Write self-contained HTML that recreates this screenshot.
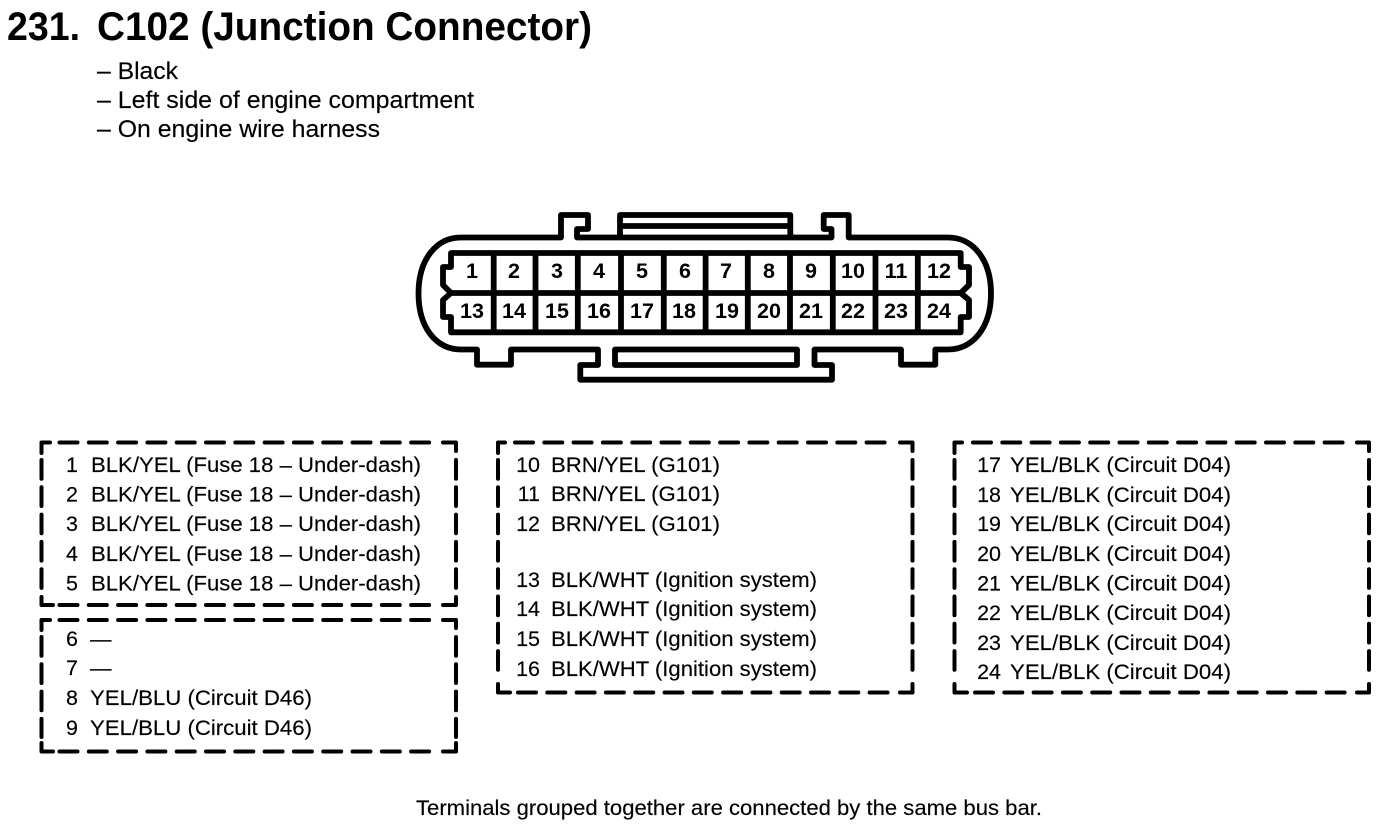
<!DOCTYPE html>
<html><head><meta charset="utf-8"><style>
html,body{margin:0;padding:0;background:#fff;width:1392px;height:834px;overflow:hidden}
svg{display:block}
text{font-family:"Liberation Sans",sans-serif;fill:#000}
.t{font-size:21.5px;stroke:#000;stroke-width:.15}
.n{font-size:21.5px;text-anchor:end;stroke:#000;stroke-width:.15}
.s{font-size:24px;stroke:#000;stroke-width:.15}
.b{font-size:21.5px;font-weight:bold;text-anchor:middle}
.h{font-size:40px;font-weight:bold}
.c{fill:none;stroke:#000;stroke-width:5.8;stroke-linejoin:round}
.d{fill:none;stroke:#000;stroke-width:4;stroke-linecap:round;stroke-linejoin:round}
.x{stroke-dasharray:18 11.3}
.y{stroke-dasharray:18.7 8.6}
</style></head><body>
<svg width="1392" height="834" viewBox="0 0 1392 834" xmlns="http://www.w3.org/2000/svg">
<text class="h" x="7" y="40" textLength="73" lengthAdjust="spacingAndGlyphs">231.</text>
<text class="h" x="97" y="40" textLength="495" lengthAdjust="spacingAndGlyphs">C102 (Junction Connector)</text>
<text class="s" x="97" y="79" textLength="81" lengthAdjust="spacingAndGlyphs">– Black</text>
<text class="s" x="97" y="108" textLength="377" lengthAdjust="spacingAndGlyphs">– Left side of engine compartment</text>
<text class="s" x="97" y="137" textLength="283" lengthAdjust="spacingAndGlyphs">– On engine wire harness</text>

<path class="c" d="M461 237.5H561V215H588V229H577V237.5H831.5V229H823.7V215H848.7V237.5H948C972.5 237.5 991 259 991 293.5C991 328 972.5 349.5 948 349.5H935.3V364.7H901V349.5H814.5V365H832V379.7H580.3V365H598V349.5H511V364.7H477V349.5H461C436.500 349.5 418.5 328 418.5 293.5C418.5 259 436.500 237.5 461 237.5Z"/>
<path class="c" d="M620 237V215H790.3V237M620 226H790.3M615 349.5H797V365H615Z"/>
<path class="c" d="M451 253H960.7V267H969V285L960.7 293L969 300V317H960.7V332.3H451V317H443V300L451 293L443 285V267H451Z"/>
<path class="c" d="M451 293H960.7M493.7 253V332.3M535.5 253V332.3M577.8 253V332.3M621 253V332.3M663.8 253V332.3M705.6 253V332.3M747.8 253V332.3M790 253V332.3M832.8 253V332.3M875.5 253V332.3M917.8 253V332.3"/>

<text class="b" x="472" y="278">1</text><text class="b" x="514" y="278">2</text><text class="b" x="557" y="278">3</text><text class="b" x="599" y="278">4</text><text class="b" x="642" y="278">5</text><text class="b" x="685" y="278">6</text><text class="b" x="726" y="278">7</text><text class="b" x="769" y="278">8</text><text class="b" x="811" y="278">9</text><text class="b" x="853" y="278">10</text><text class="b" x="896" y="278">11</text><text class="b" x="939" y="278">12</text>
<text class="b" x="472" y="318">13</text><text class="b" x="514" y="318">14</text><text class="b" x="557" y="318">15</text><text class="b" x="599" y="318">16</text><text class="b" x="642" y="318">17</text><text class="b" x="684" y="318">18</text><text class="b" x="727" y="318">19</text><text class="b" x="769" y="318">20</text><text class="b" x="811" y="318">21</text><text class="b" x="853" y="318">22</text><text class="b" x="896" y="318">23</text><text class="b" x="939" y="318">24</text>

<!-- box 1 -->
<path class="d" d="M41.5 453V442.5H50M443 442.5H456V451M456 597V605H443M53 605H41.5V597"/>
<path class="d x" d="M59.5 442.5H438M59.5 605H438"/><path class="d y" d="M41.5 460V590M456 460V590"/>
<!-- box 2 -->
<path class="d" d="M41.5 630V620H50M443 620H456V628M456 743V751.5H443M53 751.5H41.5V743"/>
<path class="d x" d="M59.5 620H438M59.5 751.5H438"/><path class="d y" d="M41.5 637V737M456 637V737"/>
<!-- box 3 -->
<path class="d" d="M498 453V442.5H505M900 442.5H912.5V451M912.5 684V692.5H900M510 692.5H498V684"/>
<path class="d x" d="M515 442.5H895M518 692.5H895"/><path class="d y" d="M498 460V678M912.5 460V678"/>
<!-- box 4 -->
<path class="d" d="M954.5 453V442.5H962M1357 442.5H1369V451M1369 684V692.5H1357M967 692.5H954.5V684"/>
<path class="d x" d="M973 442.5H1352M975 692.5H1352"/><path class="d y" d="M954.5 460V678M1369 460V678"/>

<g transform="translate(0,-0.8)">
<text class="n" x="78" y="473">1</text><text class="t" x="91" y="473" textLength="330" lengthAdjust="spacingAndGlyphs">BLK/YEL (Fuse 18 – Under-dash)</text>
<text class="n" x="78" y="502.5">2</text><text class="t" x="91" y="502.5" textLength="330" lengthAdjust="spacingAndGlyphs">BLK/YEL (Fuse 18 – Under-dash)</text>
<text class="n" x="78" y="532">3</text><text class="t" x="91" y="532" textLength="330" lengthAdjust="spacingAndGlyphs">BLK/YEL (Fuse 18 – Under-dash)</text>
<text class="n" x="78" y="562">4</text><text class="t" x="91" y="562" textLength="330" lengthAdjust="spacingAndGlyphs">BLK/YEL (Fuse 18 – Under-dash)</text>
<text class="n" x="78" y="591.5">5</text><text class="t" x="91" y="591.5" textLength="330" lengthAdjust="spacingAndGlyphs">BLK/YEL (Fuse 18 – Under-dash)</text>
<text class="n" x="78" y="647">6</text><text class="t" x="90" y="647">—</text>
<text class="n" x="78" y="676">7</text><text class="t" x="90" y="676">—</text>
<text class="n" x="78" y="706">8</text><text class="t" x="90" y="706" textLength="222" lengthAdjust="spacingAndGlyphs">YEL/BLU (Circuit D46)</text>
<text class="n" x="78" y="736">9</text><text class="t" x="90" y="736" textLength="222" lengthAdjust="spacingAndGlyphs">YEL/BLU (Circuit D46)</text>

<text class="n" x="540" y="473">10</text><text class="t" x="551" y="473" textLength="169" lengthAdjust="spacingAndGlyphs">BRN/YEL (G101)</text>
<text class="n" x="540" y="502">11</text><text class="t" x="551" y="502" textLength="169" lengthAdjust="spacingAndGlyphs">BRN/YEL (G101)</text>
<text class="n" x="540" y="532">12</text><text class="t" x="551" y="532" textLength="169" lengthAdjust="spacingAndGlyphs">BRN/YEL (G101)</text>
<text class="n" x="540" y="588">13</text><text class="t" x="551" y="588" textLength="266" lengthAdjust="spacingAndGlyphs">BLK/WHT (Ignition system)</text>
<text class="n" x="540" y="617">14</text><text class="t" x="551" y="617" textLength="266" lengthAdjust="spacingAndGlyphs">BLK/WHT (Ignition system)</text>
<text class="n" x="540" y="647">15</text><text class="t" x="551" y="647" textLength="266" lengthAdjust="spacingAndGlyphs">BLK/WHT (Ignition system)</text>
<text class="n" x="540" y="677">16</text><text class="t" x="551" y="677" textLength="266" lengthAdjust="spacingAndGlyphs">BLK/WHT (Ignition system)</text>

<text class="n" x="1001" y="473">17</text><text class="t" x="1010" y="473" textLength="221" lengthAdjust="spacingAndGlyphs">YEL/BLK (Circuit D04)</text>
<text class="n" x="1001" y="503">18</text><text class="t" x="1010" y="503" textLength="221" lengthAdjust="spacingAndGlyphs">YEL/BLK (Circuit D04)</text>
<text class="n" x="1001" y="532">19</text><text class="t" x="1010" y="532" textLength="221" lengthAdjust="spacingAndGlyphs">YEL/BLK (Circuit D04)</text>
<text class="n" x="1001" y="562">20</text><text class="t" x="1010" y="562" textLength="221" lengthAdjust="spacingAndGlyphs">YEL/BLK (Circuit D04)</text>
<text class="n" x="1001" y="591.5">21</text><text class="t" x="1010" y="591.5" textLength="221" lengthAdjust="spacingAndGlyphs">YEL/BLK (Circuit D04)</text>
<text class="n" x="1001" y="621">22</text><text class="t" x="1010" y="621" textLength="221" lengthAdjust="spacingAndGlyphs">YEL/BLK (Circuit D04)</text>
<text class="n" x="1001" y="651">23</text><text class="t" x="1010" y="651" textLength="221" lengthAdjust="spacingAndGlyphs">YEL/BLK (Circuit D04)</text>
<text class="n" x="1001" y="680">24</text><text class="t" x="1010" y="680" textLength="221" lengthAdjust="spacingAndGlyphs">YEL/BLK (Circuit D04)</text>

<text class="t" x="416" y="816" textLength="626" lengthAdjust="spacingAndGlyphs">Terminals grouped together are connected by the same bus bar.</text>
</g>
</svg>
</body></html>
